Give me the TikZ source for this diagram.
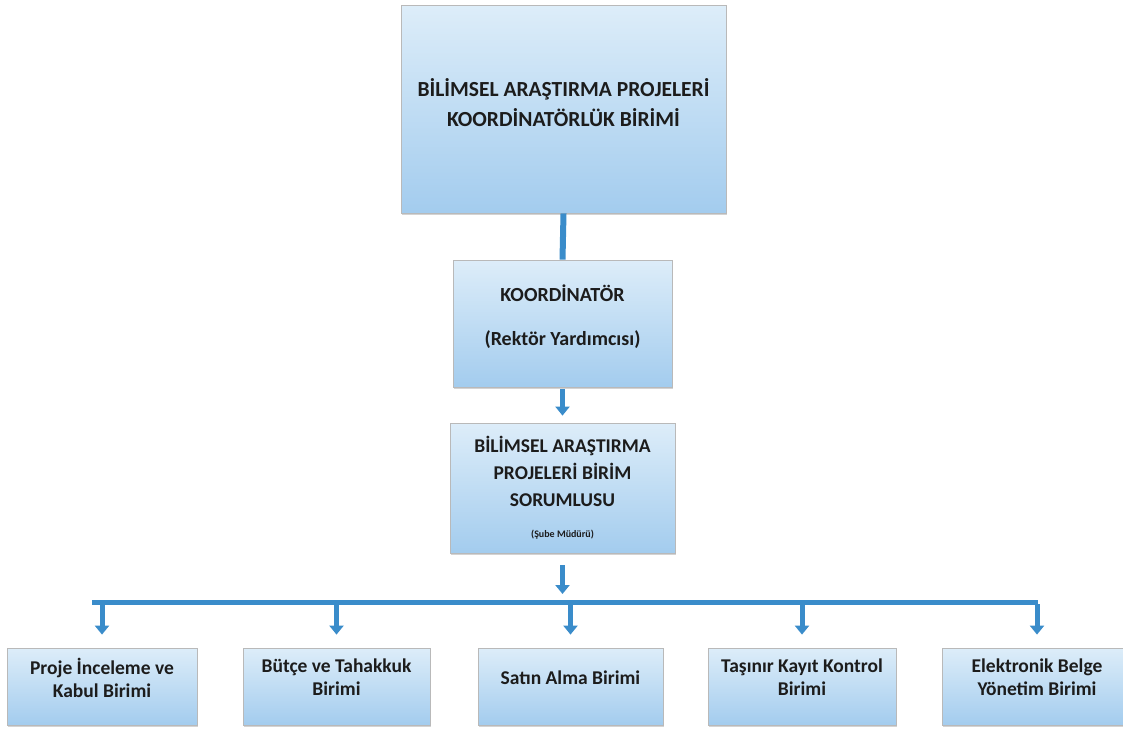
\documentclass[tikz,border=0pt]{standalone}
\usepackage{fontspec}
\setmainfont{Carlito}
\usetikzlibrary{arrows.meta,shadows}
\definecolor{boxtop}{HTML}{DDEDF9}
\definecolor{boxbot}{HTML}{A3CCEE}
\definecolor{linkblue}{HTML}{3A8CCA}
\definecolor{ink}{HTML}{1C1C1C}

\begin{document}
\begin{tikzpicture}[x=1pt,y=-1pt,
  box/.style={draw=gray!55,line width=0.8pt,top color=boxtop,bottom color=boxbot,
    drop shadow={shadow xshift=1pt,shadow yshift=-2pt,opacity=.35},
    inner sep=0pt,align=center,text=ink},
  unit/.style={box,minimum height=77pt,font=\bfseries\fontsize{19.5}{23}\selectfont},
  pipe/.style={linkblue,line width=6pt},
  downarr/.style={linkblue,line width=5pt,-{Triangle[width=14pt,length=9pt]}}]
  \useasboundingbox (0,0) rectangle (1123,728);
  \node[box,minimum width=325pt,minimum height=208pt,font=\bfseries\fontsize{21.5}{30}\selectfont] (bap) at (563.5,109)
    {BİLİMSEL ARAŞTIRMA PROJELERİ\\KOORDİNATÖRLÜK BİRİMİ\\[-18pt]\mbox{}};
  \node[box,minimum width=219pt,minimum height=127pt,font=\bfseries\fontsize{20}{24}\selectfont] (koor) at (562.5,323.5)
    {KOORDİNATÖR\\[20pt](Rektör Yardımcısı)\\[-8pt]\mbox{}};
  \node[box,minimum width=225pt,minimum height=130pt,font=\bfseries\fontsize{19.5}{27}\selectfont] (sor) at (562.5,488)
    {BİLİMSEL ARAŞTIRMA\\PROJELERİ BİRİM\\SORUMLUSU\\[4pt]{\fontsize{10}{12}\selectfont (Şube Müdürü)}};
  \node[unit,minimum width=190pt] (p1) at (102,686.5) {Proje İnceleme ve\\Kabul Birimi\\[-5pt]\mbox{}};
  \node[unit,minimum width=187pt] (p2) at (336.5,686.5) {Bütçe ve Tahakkuk\\Birimi\\[-5pt]\mbox{}};
  \node[unit,minimum width=185pt] (p3) at (570.5,686.5) {Satın Alma Birimi\\[-5pt]\mbox{}};
  \node[unit,minimum width=188pt] (p4) at (802,686.5) {Taşınır Kayıt Kontrol\\Birimi\\[-5pt]\mbox{}};
  \node[unit,minimum width=190pt] (p5) at (1037,686.5) {Elektronik Belge\\Yönetim Birimi\\[-5pt]\mbox{}};
  \coordinate (barL) at (92,602);
  \coordinate (barR) at (1038,602);
  \draw[pipe](bap.south)--(koor.north);
  \draw[downarr,shorten <=2pt,shorten >=7pt](koor.south)--(sor.north);
  \draw[downarr,shorten <=12pt,shorten >=8pt](sor.south)--(sor.south |- barL);
  \draw[linkblue,line width=5pt](barL)--(barR);
  \draw[downarr,shorten <=2pt,shorten >=13pt](p1.north |- barL)--(p1.north);
  \draw[downarr,shorten <=2pt,shorten >=13pt](p2.north |- barL)--(p2.north);
  \draw[downarr,shorten <=2pt,shorten >=13pt](p3.north |- barL)--(p3.north);
  \draw[downarr,shorten <=2pt,shorten >=13pt](p4.north |- barL)--(p4.north);
  \draw[downarr,shorten <=2pt,shorten >=13pt](p5.north |- barL)--(p5.north);
\end{tikzpicture}
\end{document}
